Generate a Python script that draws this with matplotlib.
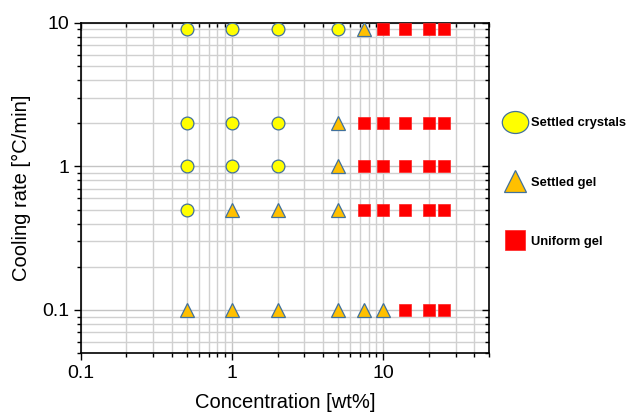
import numpy as np
import matplotlib.pyplot as plt
from matplotlib.ticker import LogLocator, FuncFormatter, NullFormatter
from matplotlib.lines import Line2D
from matplotlib.path import Path

plt.rcParams['font.family'] = ['Liberation Sans', 'DejaVu Sans']

# concentration [wt%] and cooling rate [C/min] per state
crystals_x = [0.5, 1, 2, 5, 0.5, 1, 2, 0.5, 1, 2, 0.5]
crystals_y = [9, 9, 9, 9, 2, 2, 2, 1, 1, 1, 0.5]

settled_gel_x = [7.5, 5, 5, 1, 2, 5, 0.5, 1, 2, 5, 7.5, 10]
settled_gel_y = [9, 2, 1, 0.5, 0.5, 0.5, 0.1, 0.1, 0.1, 0.1, 0.1, 0.1]

uniform_x = [10, 14, 20, 25,
             7.5, 10, 14, 20, 25,
             7.5, 10, 14, 20, 25,
             7.5, 10, 14, 20, 25,
             14, 20, 25]
uniform_y = [9, 9, 9, 9,
             2, 2, 2, 2, 2,
             1, 1, 1, 1, 1,
             0.5, 0.5, 0.5, 0.5, 0.5,
             0.1, 0.1, 0.1]

labels = ['Settled crystals', 'Settled gel', 'Uniform gel']

edge = '#41719C'
fig = plt.figure(figsize=(6.27, 4.15), dpi=100)
ax = fig.add_axes([0.129, 0.149, 0.651, 0.796])

ax.plot(crystals_x, crystals_y, 'o', ms=9.2, mfc='#FFFF00', mec=edge, mew=0.9, ls='none', zorder=3)
ax.plot(settled_gel_x, settled_gel_y, '^', ms=10, mfc='#FFC000', mec=edge, mew=0.9, ls='none', zorder=3)
ax.plot(uniform_x, uniform_y, 's', ms=8.2, mfc='#FF0000', mec='#FF2020', mew=0.5, ls='none', zorder=3)

ax.set_xscale('log')
ax.set_yscale('log')
ax.set_xlim(0.1, 50)
ax.set_ylim(0.05, 10)

fmt = FuncFormatter(lambda v, p: '%g' % v)
for axis in (ax.xaxis, ax.yaxis):
    axis.set_major_locator(LogLocator(base=10))
    axis.set_minor_locator(LogLocator(base=10, subs=np.arange(2, 10)))
    axis.set_major_formatter(fmt)
    axis.set_minor_formatter(NullFormatter())

ax.grid(True, which='major', color='#c4c4c4', lw=1.0, zorder=0)
ax.grid(True, which='minor', color='#d0d0d0', lw=1.0, zorder=0)
ax.set_axisbelow(True)

ax.tick_params(which='both', direction='out', top=True, right=True, labelsize=14, width=1.0)
ax.tick_params(which='major', length=5)
ax.tick_params(which='minor', length=3)
for s in ax.spines.values():
    s.set_linewidth(1.2)

# ticks on top/right point inward
for t in ax.xaxis.get_major_ticks() + ax.xaxis.get_minor_ticks():
    t.tick2line.set_marker(3)
for t in ax.yaxis.get_major_ticks() + ax.yaxis.get_minor_ticks():
    t.tick2line.set_marker(0)

ax.set_xlabel('Concentration [wt%]', fontsize=14.5, labelpad=8)
ax.set_ylabel('Cooling rate [°C/min]', fontsize=14.5, labelpad=8)

circ = Path.unit_circle()
ellipse = Path(circ.vertices * [1.2, 1.0], circ.codes)
handles = [
    Line2D([], [], marker=ellipse, ms=19, mfc='#FFFF00', mec=edge, mew=0.9, ls='none'),
    Line2D([], [], marker='^', ms=16, mfc='#FFC000', mec=edge, mew=0.9, ls='none'),
    Line2D([], [], marker='s', ms=14, mfc='#FF0000', mec='#FF2020', mew=0.5, ls='none'),
]
leg = fig.legend(handles, labels, loc='upper left', bbox_to_anchor=(0.783, 0.745),
                 frameon=False, labelspacing=3.65, handletextpad=0.2, handlelength=2.0,
                 prop={'weight': 'bold', 'size': 9.3})

fig.savefig('out.png', dpi=100)
